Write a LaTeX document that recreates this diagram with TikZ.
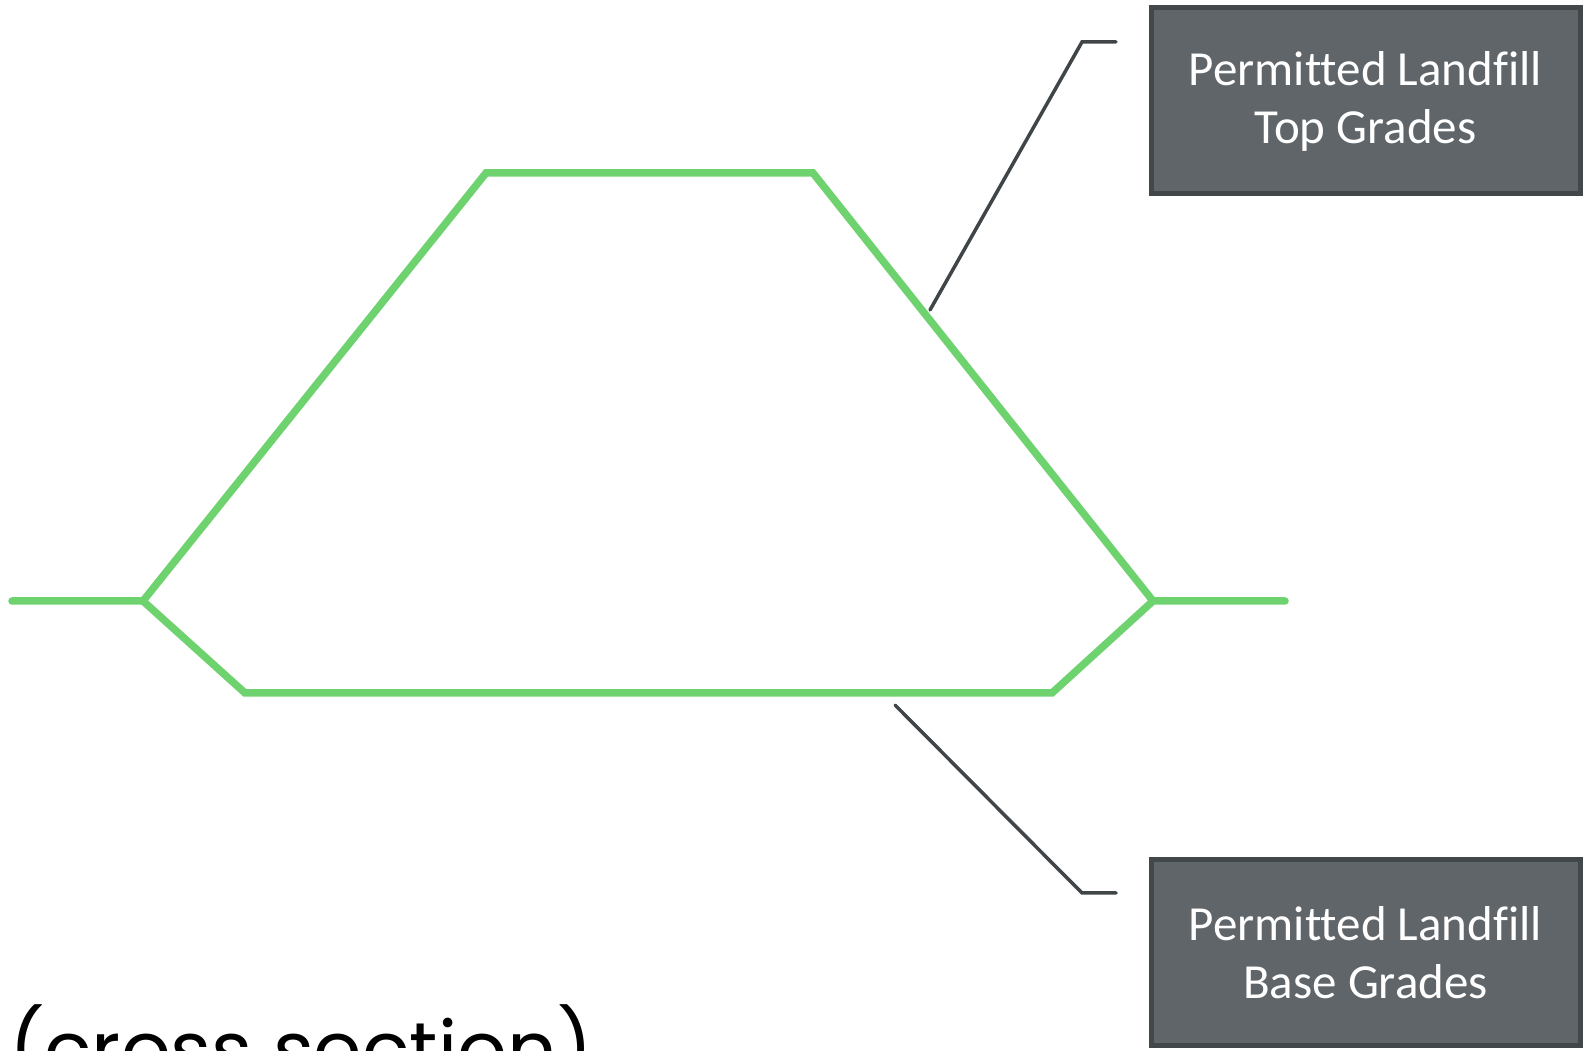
\documentclass[tikz,border=0pt]{standalone}
\usepackage{fontspec}
\usepackage{tkz-euclide}
\newfontfamily\boxfont{Carlito}[Ligatures=NoCommon]
\newfontfamily\titlefont{Poppins}
\definecolor{gradegreen}{RGB}{110,211,110}
\definecolor{boxgray}{RGB}{95,101,105}
\definecolor{boxedge}{RGB}{66,71,74}
\definecolor{leadgray}{RGB}{64,69,72}
\tikzset{
  grade/.style={draw=gradegreen, line width=7.5pt, line cap=round},
  leader/.style={draw=leadgray, line width=3.5pt},
  gradebox/.style={draw=boxedge, fill=boxgray, line width=5pt, minimum width=429pt,
    minimum height=186pt, text=white, align=center,
    font=\boxfont\fontsize{49}{58}\selectfont}
}

\begin{document}
\begin{tikzpicture}[x=1pt,y=1pt]
\useasboundingbox (0,0) rectangle (1585,1051);
\clip (0,0) rectangle (1585,1051);
% ground line and top grades
\tkzDefPoints{12/450/G, 143/450/L, 486/878/T, 813/878/S, 1153/450/R, 1285/450/H}
% base grades
\tkzDefPoints{245/358/B, 1052/358/C}
\tkzDrawPolySeg[grade](G,L,T,S,R,H)
\tkzDrawPolySeg[grade](L,B,C,R)
% labels
\node[gradebox] (top) at (1365.5,950) {Permitted Landfill\\Top Grades};
\node[gradebox] (base) at (1365.5,98) {Permitted Landfill\\Base Grades};
\tkzDefPoints{930/741/P, 1082/1009/E, 1116/1009/F}
\tkzDefPoints{895/346/Q, 1082/158/K, 1116/158/M}
\tkzDrawPolySeg[leader](P,E,F)
\tkzDrawPolySeg[leader](Q,K,M)
\node[anchor=base west, inner sep=0pt, font=\titlefont\fontsize{78}{94}\selectfont]
  (title) at (9,-27) {(cross section)};
\end{tikzpicture}
\end{document}
